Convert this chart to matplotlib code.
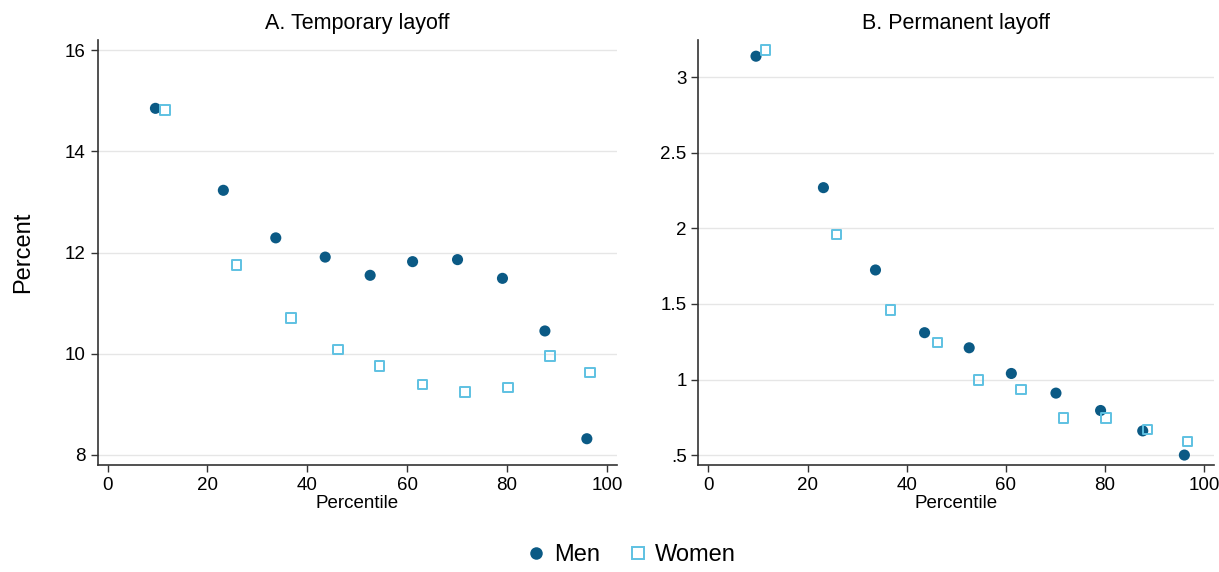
import matplotlib.pyplot as plt
from matplotlib.lines import Line2D

plt.rcParams['font.family'] = ['Liberation Sans', 'DejaVu Sans']

# percentile positions (men and women are slightly offset)
men_pct = [9.6, 23.2, 33.7, 43.6, 52.6, 61.1, 70.1, 79.1, 87.6, 96.0]
women_pct = [11.5, 25.8, 36.7, 46.2, 54.5, 63.1, 71.6, 80.2, 88.6, 96.6]

# A. temporary layoff
temp_men = [14.85, 13.23, 12.29, 11.91, 11.55, 11.82, 11.86, 11.49, 10.45, 8.32]
temp_women = [14.82, 11.75, 10.70, 10.08, 9.76, 9.39, 9.24, 9.33, 9.95, 9.63]

# B. permanent layoff
perm_men = [3.14, 2.27, 1.725, 1.31, 1.21, 1.04, 0.91, 0.795, 0.66, 0.50]
perm_women = [3.18, 1.96, 1.46, 1.245, 0.995, 0.935, 0.745, 0.745, 0.67, 0.59]

men_col = '#0b5a85'
women_col = '#5ec1e2'

fig = plt.figure(figsize=(12.19, 5.72), dpi=100)
ax1 = fig.add_axes([0.080, 0.187, 0.426, 0.743])
ax2 = fig.add_axes([0.573, 0.187, 0.423, 0.743])

panels = [
    (ax1, temp_men, temp_women, 'A. Temporary layoff', (7.8, 16.2), [8, 10, 12, 14, 16], ['8', '10', '12', '14', '16']),
    (ax2, perm_men, perm_women, 'B. Permanent layoff', (0.434, 3.247), [0.5, 1, 1.5, 2, 2.5, 3], ['.5', '1', '1.5', '2', '2.5', '3']),
]

for ax, m, w, title, ylim, yt, ytl in panels:
    ax.scatter(men_pct, m, s=64, color=men_col, edgecolors='none', zorder=3)
    ax.scatter(women_pct, w, s=48, marker='s', facecolors='none',
               edgecolors=women_col, linewidths=1.4, zorder=3)
    ax.set_xlim(-2, 102)
    ax.set_ylim(*ylim)
    ax.set_xticks([0, 20, 40, 60, 80, 100])
    ax.set_yticks(yt)
    ax.set_yticklabels(ytl)
    ax.grid(axis='y', color='#e6e6e6', linewidth=1)
    ax.set_axisbelow(True)
    for s in ['top', 'right']:
        ax.spines[s].set_visible(False)
    for s in ['left', 'bottom']:
        ax.spines[s].set_color('#333333')
        ax.spines[s].set_linewidth(1.2)
    ax.tick_params(labelsize=13.5, length=5, color='#333333', width=1)
    ax.set_xlabel('Percentile', fontsize=13.5, labelpad=1)
    ax.set_title(title, fontsize=15.5, pad=8)

ax1.set_ylabel('Percent', fontsize=17, labelpad=22)

handles = [
    Line2D([], [], marker='o', linestyle='none', markersize=9, color=men_col, markeredgecolor='none'),
    Line2D([], [], marker='s', linestyle='none', markersize=8, markerfacecolor='none',
           markeredgecolor=women_col, markeredgewidth=1.4),
]
fig.legend(handles, ['Men', 'Women'], loc='center', bbox_to_anchor=(0.517, 0.03),
           ncol=2, frameon=False, fontsize=17, handlelength=1.0,
           handletextpad=0.25, columnspacing=1.1)

fig.savefig('out.png', dpi=100)
